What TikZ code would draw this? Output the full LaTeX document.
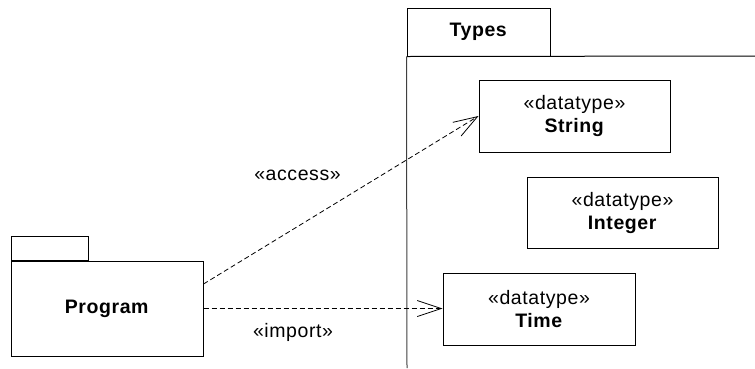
\documentclass[tikz,border=0pt]{standalone}
\usepackage{fontspec}
\setmainfont{Liberation Sans}[LetterSpace=3]
\usetikzlibrary{arrows.meta,calc}
\begin{document}
\begin{tikzpicture}[x=1pt,y=-1pt,
  txt/.style={font=\fontsize{19.5}{23}\selectfont, inner sep=0pt},
  box/.style={draw=black, line width=1pt, fill=white, align=center,
    font=\fontsize{19.5}{23}\selectfont, inner sep=0pt},
  dep/.style={draw=black, line width=0.8pt, dash pattern=on 5pt off 3pt,
    -{Straight Barb[length=24pt,width=16pt,line width=0.8pt]}}]
\useasboundingbox (0,0) rectangle (755,368);
\fill[white] (0,0) rectangle (755,368);
% Program package
\node[box, minimum width=192pt, minimum height=95pt] (prog) at (107,308.5) {\textbf{Program}};
\node[box, minimum width=77pt, minimum height=24pt, anchor=south west] (progtab) at (prog.north west) {};
% Types package
\node[box, minimum width=143pt, minimum height=48pt] (typestab) at (478.5,32) {\textbf{Types}};
\coordinate (tbl) at (typestab.south west);
\coordinate (tright) at (755,56);
\coordinate (tbottom) at (407,368);
\draw[line width=1pt, black] (tbl) -- (tright);
\draw[line width=1pt, black!75] (tbl) -- (tbottom);
% datatypes
\node[box, minimum width=191pt, minimum height=72pt] (str) at (574.5,116) {«datatype»\\\textbf{String}};
\node[box, minimum width=191pt, minimum height=71pt] (int) at (622.5,212.5) {«datatype»\\\textbf{Integer}};
\node[box, minimum width=192pt, minimum height=72pt] (time) at (539,309) {«datatype»\\\textbf{Time}};
% dependencies
\draw[dep] ([yshift=24.5pt]prog.east) -- (str.west);
\draw[dep] (prog.east) -- (prog.east -| time.west);
\node[txt] (lacc) at (297.5,175) {«access»};
\node[txt] (limp) at (293,332) {«import»};
\end{tikzpicture}
\end{document}
